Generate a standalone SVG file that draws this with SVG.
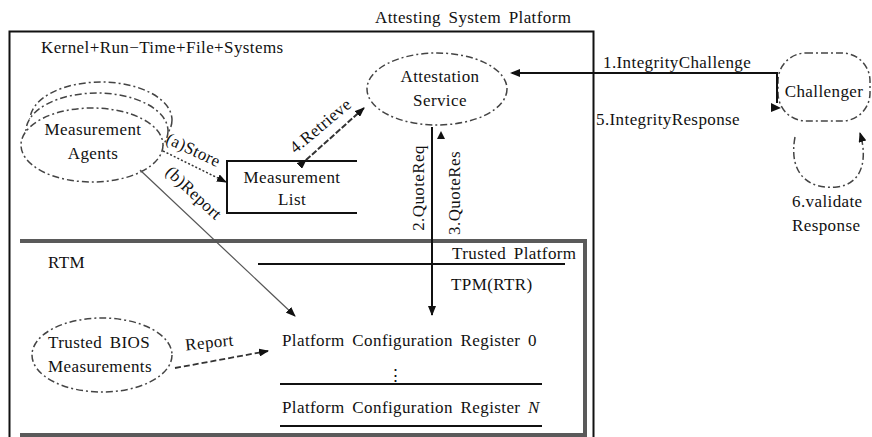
<svg xmlns="http://www.w3.org/2000/svg" width="872" height="437" viewBox="0 0 872 437">
<style>
text{font-family:"Liberation Serif","Times New Roman",serif;font-size:17px;fill:#111;letter-spacing:0.4px;word-spacing:3px}
.m{text-anchor:middle}
.dash{fill:#fff;stroke:#444;stroke-width:1.5;stroke-dasharray:7 3 2 3}
.ln{fill:none;stroke:#111;stroke-width:2}
.gray{fill:none;stroke:#5a5a5a;stroke-width:4}
</style>
<defs>
<marker id="arr" markerUnits="userSpaceOnUse" markerWidth="10" markerHeight="8" refX="9" refY="4" orient="auto">
<path d="M0,0 L10,4 L0,8 z" fill="#111"/>
</marker>
</defs>
<rect width="872" height="437" fill="#fff"/>
<g id="platform">
<rect x="9.5" y="31.5" width="584" height="430" fill="none" stroke="#111" stroke-width="2"/>
<text x="375" y="23">Attesting System Platform</text>
<text x="41" y="53">Kernel+Run−Time+File+Systems</text>
</g>
<g id="trusted-platform">
<path class="gray" d="M20,241 H585 V435 H20"/>
<text x="452" y="259">Trusted Platform</text>
<line class="ln" x1="258" y1="264" x2="565" y2="264"/>
<text x="451" y="290">TPM(RTR)</text>
<text x="48" y="268">RTM</text>
</g>
<g id="measurement-agents">
<ellipse class="dash" cx="101" cy="120" rx="71" ry="38"/>
<ellipse class="dash" cx="97" cy="131" rx="71" ry="38"/>
<ellipse class="dash" cx="92" cy="145" rx="71" ry="37"/>
<text class="m" x="93" y="135">Measurement</text>
<text class="m" x="93" y="159">Agents</text>
</g>
<g id="attestation-service">
<ellipse class="dash" cx="437" cy="89" rx="70" ry="36"/>
<text class="m" x="440" y="82">Attestation</text>
<text class="m" x="440" y="106">Service</text>
</g>
<g id="measurement-list">
<path class="ln" d="M357,161 H227 V213 H357"/>
<text class="m" x="292" y="183">Measurement</text>
<text class="m" x="292" y="205">List</text>
</g>
<g id="challenger">
<rect class="dash" x="778" y="53" width="92" height="68" rx="28"/>
<text class="m" x="824" y="97">Challenger</text>
</g>
<g id="trusted-bios">
<ellipse class="dash" cx="102" cy="355" rx="70" ry="37"/>
<text x="48" y="348">Trusted BIOS</text>
<text x="48" y="372">Measurements</text>
</g>
<g id="pcr">
<text x="282" y="346">Platform Configuration Register 0</text>
<text class="m" x="396" y="381">⋮</text>
<line class="ln" x1="280" y1="384" x2="542" y2="384"/>
<text x="282" y="413">Platform Configuration Register <tspan font-style="italic">N</tspan></text>
<line class="ln" x1="280" y1="426" x2="542" y2="426"/>
</g>
<g id="connectors">
<line x1="163" y1="151" x2="226" y2="182" stroke="#333" stroke-width="1.5" stroke-dasharray="2 2" marker-end="url(#arr)"/>
<text transform="translate(191,155) rotate(25)" class="m">(a)Store</text>
<line x1="140" y1="170" x2="295" y2="316" stroke="#555" stroke-width="1.2" marker-end="url(#arr)"/>
<text transform="translate(190,197) rotate(43)" class="m">(b)Report</text>
<line x1="306" y1="160" x2="364" y2="108" stroke="#333" stroke-width="2" stroke-dasharray="6 2" marker-start="url(#arr)" marker-end="url(#arr)"/>
<text transform="translate(324,130) rotate(-40)" class="m">4.Retrieve</text>
<line x1="432" y1="127" x2="432" y2="315" stroke="#111" stroke-width="2" marker-end="url(#arr)"/>
<text transform="translate(424,188) rotate(-90)" class="m">2.QuoteReq</text>
<path d="M437,139 L441,131 L445,139 z" fill="#111"/>
<text transform="translate(460,193) rotate(-90)" class="m">3.QuoteRes</text>
<path class="ln" d="M777,103 V73 H512"/>
<path d="M520,69 L510,73 L520,77 z" fill="#111"/>
<path d="M771,103 L781,108 L771,112 z" fill="#111"/>
<text x="603" y="68">1.IntegrityChallenge</text>
<text x="596" y="125">5.IntegrityResponse</text>
<path d="M795,137 C788,175 810,190 837,187 C862,184 868,160 860,133" fill="none" stroke="#444" stroke-width="1.5" stroke-dasharray="7 3 2 3" marker-end="url(#arr)"/>
<text x="792" y="207">6.validate</text>
<text x="792" y="231">Response</text>
<path d="M175,368 L268,351" stroke="#333" stroke-width="1.8" stroke-dasharray="6 3" marker-end="url(#arr)"/>
<text transform="translate(210,348) rotate(-6)" class="m">Report</text>
</g>
</svg>
